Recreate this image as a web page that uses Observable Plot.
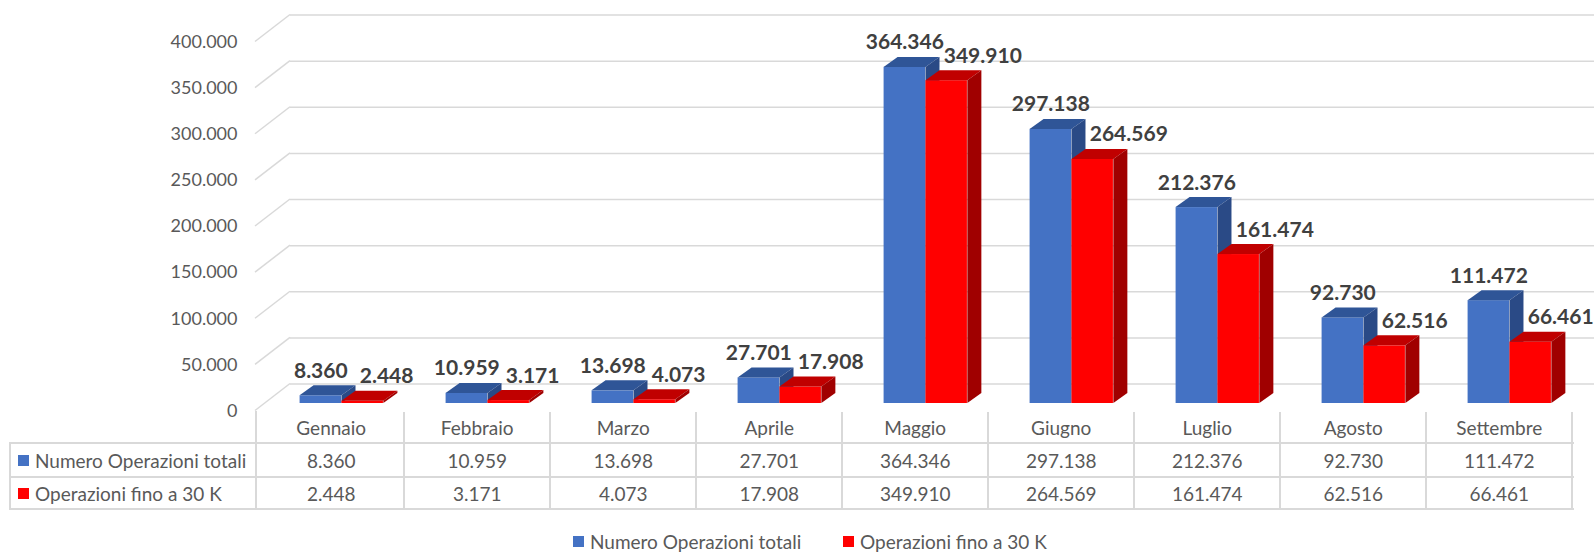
<!DOCTYPE html>
<html><head><meta charset="utf-8">
<script src="https://cdn.jsdelivr.net/npm/d3@7"></script>
<script src="https://cdn.jsdelivr.net/npm/@observablehq/plot@0.6"></script>
<style>
html,body{margin:0;padding:0;background:#fff;overflow:hidden}
#wrap{position:relative;width:1594px;height:553px;overflow:hidden;font-family:Lato,"Open Sans",sans-serif;}
#wrap svg{position:absolute;left:0;top:0;overflow:visible}
.cell{position:absolute;display:flex;align-items:center;color:#595959;font-size:19px;white-space:nowrap;line-height:1}
.ln{position:absolute;background:#d9d9d9}
.sq{display:inline-block;width:11px;height:11px;margin-right:6px}
</style></head><body><div id="wrap"></div>
<script>
// ---- data ----
const months = ["Gennaio", "Febbraio", "Marzo", "Aprile", "Maggio", "Giugno", "Luglio", "Agosto", "Settembre"];
const totali = [8360, 10959, 13698, 27701, 364346, 297138, 212376, 92730, 111472];
const fino30k = [2448, 3171, 4073, 17908, 349910, 264569, 161474, 62516, 66461];
const seriesNames = ["Numero Operazioni totali", "Operazioni fino a 30 K"];
const yTicks = [0, 50000, 100000, 150000, 200000, 250000, 300000, 350000, 400000];

// ---- styles ----
const front = ["#4472C4", "#FF0000"];
const topC = ["#2F5597", "#C00000"];
const sideC = ["#2A4A86", "#A00000"];
const gridC = "#d9d9d9";

const it = d3.formatLocale({decimal: ",", thousands: ".", grouping: [3], currency: ["€", ""]});
const fmt = it.format(",d");

const W = 1594, H = 420, ML = 256, MR = 20, MT = 34, MB = 17;
const bw = (W - ML - MR) / months.length;
const pos = [[0.284, 0.570], [0.570, 0.856]];
const DX = 14, DY = -10;

const rows = months.flatMap((m, i) => [
  {month: m, s: 0, v: totali[i]},
  {month: m, s: 1, v: fino30k[i]}
]);

function faces(s) {
  return (index, scales) => {
    const g = d3.create("svg:g");
    for (const d of rows.filter(r => r.s === s)) {
      const b = scales.x(d.month);
      const x0 = b + pos[s][0] * bw, x1 = b + pos[s][1] * bw;
      const yt = scales.y(d.v), yb = scales.y(0);
      g.append("path")
        .attr("d", `M${x0},${yt}L${x1},${yt}L${x1 + DX},${yt + DY}L${x0 + DX},${yt + DY}Z`)
        .attr("fill", topC[s]);
      g.append("path")
        .attr("d", `M${x1},${yt}L${x1 + DX},${yt + DY}L${x1 + DX},${yb + DY}L${x1},${yb}Z`)
        .attr("fill", sideC[s]);
    }
    return g.node();
  };
}

function slants(index, scales) {
  const g = d3.create("svg:g");
  for (const t of yTicks) {
    const y = scales.y(t);
    g.append("line")
      .attr("x1", ML - 1).attr("y1", y + 7.5)
      .attr("x2", ML + 34).attr("y2", y - 19.5)
      .attr("stroke", gridC).attr("stroke-width", 1.5);
  }
  return g.node();
}

const chart = Plot.plot({
  width: W, height: H,
  marginLeft: ML, marginRight: MR, marginTop: MT, marginBottom: MB,
  x: {domain: months, padding: 0, axis: null},
  y: {domain: [0, 400000], axis: null},
  style: {fontFamily: "Lato, 'Open Sans', sans-serif", background: "transparent", overflow: "visible"},
  marks: [
    Plot.ruleY(yTicks, {y: d => d, dx: 34, dy: -19.5, stroke: gridC, strokeWidth: 1.5}),
    slants,
    Plot.text(yTicks, {y: d => d, text: d => fmt(d), frameAnchor: "left", textAnchor: "end",
      dx: -19, dy: 7.5, fontSize: 18, fill: "#595959"}),
    Plot.barY(rows.filter(d => d.s === 0), {x: "month", y: "v", fill: front[0],
      insetLeft: pos[0][0] * bw, insetRight: (1 - pos[0][1]) * bw}),
    faces(0),
    Plot.barY(rows.filter(d => d.s === 1), {x: "month", y: "v", fill: front[1],
      insetLeft: pos[1][0] * bw, insetRight: (1 - pos[1][1]) * bw}),
    faces(1),
    Plot.text(rows.filter(d => d.s === 0), {x: "month", y: "v", text: d => fmt(d.v),
      dx: (pos[0][0] + pos[0][1]) / 2 * bw - bw / 2, dy: -18, lineAnchor: "bottom",
      fontSize: 21, fontWeight: "bold", fill: "#404040"}),
    Plot.text(rows.filter(d => d.s === 1), {x: "month", y: "v", text: d => fmt(d.v),
      dx: pos[1][0] * bw - bw / 2 + 18, dy: -18, lineAnchor: "bottom", textAnchor: "start",
      fontSize: 21, fontWeight: "bold", fill: "#404040"})
  ]
});

const wrap = document.getElementById("wrap");
wrap.appendChild(chart);

// ---- data table (below the plot, aligned on the x scale) ----
const xs = chart.scale("x");
const colLeft = m => xs.apply(m);
const tLeft = 10, tRight = ML + months.length * bw;
const yHead = 412, yR1 = 443, yR2 = 477, yEnd = 509;

function line(x, y, w, h) {
  const d = document.createElement("div");
  d.className = "ln";
  Object.assign(d.style, {left: x + "px", top: y + "px", width: w + "px", height: h + "px"});
  wrap.appendChild(d);
}
function cell(x, y, w, h, html, justify) {
  const d = document.createElement("div");
  d.className = "cell";
  Object.assign(d.style, {left: x + "px", top: y + "px", width: w + "px", height: h + "px",
    justifyContent: justify || "center"});
  d.innerHTML = html;
  wrap.appendChild(d);
}
// horizontal lines
[yR1, yR2, yEnd].forEach(y => line(tLeft, y - 1, tRight - tLeft, 2));
// vertical lines
line(tLeft - 1, yR1 - 1, 2, yEnd - yR1 + 2);
line(ML - 1, yHead - 1, 2, yEnd - yHead + 1);
months.forEach(m => line(colLeft(m) + bw - 1, yHead, 2, yEnd - yHead + 1));
// headers and values
months.forEach((m, i) => {
  cell(colLeft(m), yHead, bw, yR1 - yHead, m);
  cell(colLeft(m), yR1, bw, yR2 - yR1, fmt(totali[i]));
  cell(colLeft(m), yR2, bw, yEnd - yR2, fmt(fino30k[i]));
});
seriesNames.forEach((n, s) => {
  const y0 = s === 0 ? yR1 : yR2, y1 = s === 0 ? yR2 : yEnd;
  cell(18, y0, ML - 18, y1 - y0, `<span class="sq" style="background:${front[s]}"></span>${n}`, "flex-start");
});

// ---- legend ----
const legX = [573, 843];
seriesNames.forEach((n, s) => {
  cell(legX[s], 530, 260, 22, `<span class="sq" style="background:${front[s]}"></span>${n}`, "flex-start");
});
</script></body></html>
